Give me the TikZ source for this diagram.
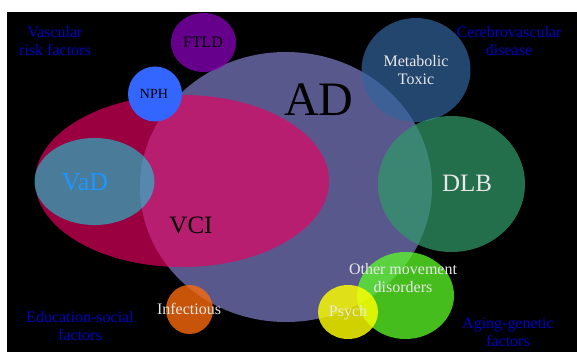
\documentclass[tikz,border=0pt]{standalone}
\usepackage{fontspec}
\setmainfont{Liberation Serif}
\usetikzlibrary{shapes.geometric}
\definecolor{adcol}{RGB}{88,88,140}
\definecolor{vcicol}{RGB}{237,0,98}
\definecolor{vadcol}{RGB}{22,208,215}
\definecolor{ftldcol}{RGB}{146,0,200}
\definecolor{nphcol}{RGB}{51,102,255}
\definecolor{metcol}{RGB}{50,100,157}
\definecolor{dlbcol}{RGB}{49,153,104}
\definecolor{othcol}{RGB}{93,253,40}
\definecolor{psycol}{RGB}{255,255,0}
\definecolor{infcol}{RGB}{250,106,12}
\definecolor{factorcol}{RGB}{0,0,200}
\definecolor{lighttext}{RGB}{232,232,232}
\definecolor{vadtext}{RGB}{30,150,255}
\begin{document}
\begin{tikzpicture}[x=1pt,y=-1pt,
  blob/.style={ellipse, inner sep=0pt, outer sep=0pt, draw=none},
  lbl/.style={font=\fontsize{16}{18}\selectfont, align=center, inner sep=0pt},
  factor/.style={lbl, text=factorcol},
  light/.style={lbl, text=lighttext}]
\useasboundingbox (0,0) rectangle (577,352);
\fill[white] (0,0) rectangle (577,352);
\fill[black] (7,12) rectangle (577,352);
% shapes
\node[blob, fill=adcol, minimum width=292pt, minimum height=270pt] (ad) at (286,187) {};
\node[blob, fill=vcicol, fill opacity=0.65, minimum width=294pt, minimum height=172pt] (vci) at (182,181) {};
\node[blob, fill=vadcol, fill opacity=0.6, minimum width=120pt, minimum height=87pt] (vad) at (94.5,181.5) {};
\node[blob, fill=ftldcol, fill opacity=0.7, minimum width=65pt, minimum height=59pt] (ftld) at (203.5,42.5) {};
\node[blob, fill=nphcol, minimum width=54pt, minimum height=55pt] (nph) at (155,94) {};
\node[blob, fill=metcol, fill opacity=0.7, minimum width=109pt, minimum height=104pt] (met) at (416,70) {};
\node[blob, fill=dlbcol, fill opacity=0.72, minimum width=147pt, minimum height=136pt] (dlb) at (451.5,184) {};
\node[blob, fill=othcol, fill opacity=0.75, minimum width=97pt, minimum height=87pt] (oth) at (405.5,295.5) {};
\node[blob, fill=psycol, fill opacity=0.82, minimum width=60pt, minimum height=54pt] (psy) at (348,312) {};
\node[blob, fill=infcol, fill opacity=0.8, minimum width=47pt, minimum height=49pt] (inf) at (189.5,309.5) {};
% texts
\node[lbl, font=\fontsize{48}{48}\selectfont] (tad) at (319,100) {AD};
\node[lbl, font=\fontsize{25}{25}\selectfont] (tvci) at (191,225) {VCI};
\node[lbl, font=\fontsize{26}{26}\selectfont, text=vadtext] (tvad) at (85,182) {VaD};
\node[lbl, font=\fontsize{25}{25}\selectfont, text=lighttext] (tdlb) at (467,183) {DLB};
\node[lbl, font=\fontsize{14}{14}\selectfont] (tnph) at (154,94) {NPH};
\node[lbl] (tftld) at (203,42) {FTLD};
\node[light] (tmet) at (416,70) {Metabolic\\Toxic};
\node[light] (toth) at (403,278) {Other movement\\disorders};
\node[light] (tpsy) at (348,313) {Psych};
\node[light] (tinf) at (189,309) {Infectious};
\node[factor] (fvasc) at (55,41) {Vascular\\risk factors};
\node[factor] (fcere) at (509,41) {Cerebrovascular\\disease};
\node[factor] (fedu) at (80,326) {Education-social\\factors};
\node[factor] (fage) at (508,332) {Aging-genetic\\factors};
\end{tikzpicture}
\end{document}
